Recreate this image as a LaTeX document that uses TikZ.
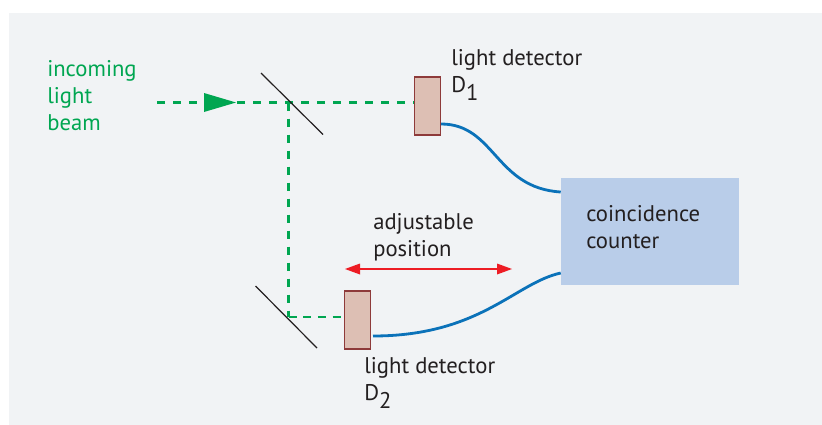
\documentclass[tikz,border=0pt]{standalone}
\usepackage{fontspec}
\setmainfont{PT Sans}
\definecolor{panelc}{HTML}{F1F3F5}
\definecolor{beamc}{HTML}{00A651}
\definecolor{detfill}{HTML}{DDBFB4}
\definecolor{detline}{HTML}{8E3A3A}
\definecolor{wirec}{HTML}{0B72B9}
\definecolor{boxc}{HTML}{B9CDE9}
\definecolor{redc}{HTML}{ED1C24}
\definecolor{textc}{HTML}{231F20}
\newcommand{\subdigit}[1]{\raisebox{-6pt}{#1}}
\tikzset{
  detector/.style={draw=detline,fill=detfill,line width=0.8pt,minimum width=19.5pt,minimum height=43.5pt,inner sep=0pt},
  beam/.style={beamc,line width=2.2pt,dash pattern=on 6pt off 6pt},
  mirror/.style={textc,line width=0.9pt},
  wire/.style={wirec,line width=2.1pt},
  lab/.style={font=\fontsize{17pt}{20.2pt}\selectfont,text=textc,align=left,anchor=north west,inner sep=0pt},
}
\begin{document}
\begin{tikzpicture}[x=0.75pt,y=-0.75pt]
\useasboundingbox (0,0) rectangle (822,425);
\fill[white] (0,0) rectangle (822,425);
\fill[panelc] (9,13) rectangle (822,425);
% coordinates
\coordinate (m1a) at (261,73);
\coordinate (m1b) at (323,134.5);
\coordinate (m2a) at (255.5,286);
\coordinate (m2b) at (317,348);
\coordinate (bstart) at (157,102.5);
\coordinate (bs1) at (288.5,102.5);
\coordinate (bs2) at (288.5,317);
\coordinate (rl) at (345,269);
\coordinate (rr) at (512,269);
% blocks
\node[detector] (d1) at (427.5,106) {};
\node[detector] (d2) at (357.5,320) {};
\node[fill=boxc,minimum width=133.5pt,minimum height=80.25pt,inner sep=0pt] (box) at (650,231.5) {};
% beams
\draw[beam] (bstart) -- (bs1) -- (d1.west |- bs1);
\draw[beam] (bs1) -- (bs2);
\draw[beam,dash pattern=on 6pt off 5pt] (bs2) -- (d2.west |- bs2);
\fill[beamc] (204,93) -- (236,102.5) -- (204,112) -- cycle;
% mirrors
\draw[mirror] (m1a) -- (m1b);
\draw[mirror] (m2a) -- (m2b);
% wires
\draw[wire] (d1.east |- 0,124) .. controls (495,124) and (495,188) .. (box.west |- 0,192);
\draw[wire] (373,336) .. controls (480,336) and (515,283) .. (box.west |- 0,273);
% red arrow
\draw[redc,line width=1.1pt] (355,269) -- (502,269);
\fill[redc] (rl) -- (360,263.5) -- (360,274.5) -- cycle;
\fill[redc] (rr) -- (497,263.5) -- (497,274.5) -- cycle;
% labels
\node[lab,text=beamc] (t1) at (47,60) {incoming\\light\\beam};
\node[lab] (t2) at (451,49) {light detector\\D\subdigit{1}};
\node[lab] (t3) at (364,357) {light detector\\D\subdigit{2}};
\node[lab] (t4) at (373,213) {adjustable\\position};
\node[lab] (t5) at (586,205) {coincidence\\counter};
\end{tikzpicture}
\end{document}
